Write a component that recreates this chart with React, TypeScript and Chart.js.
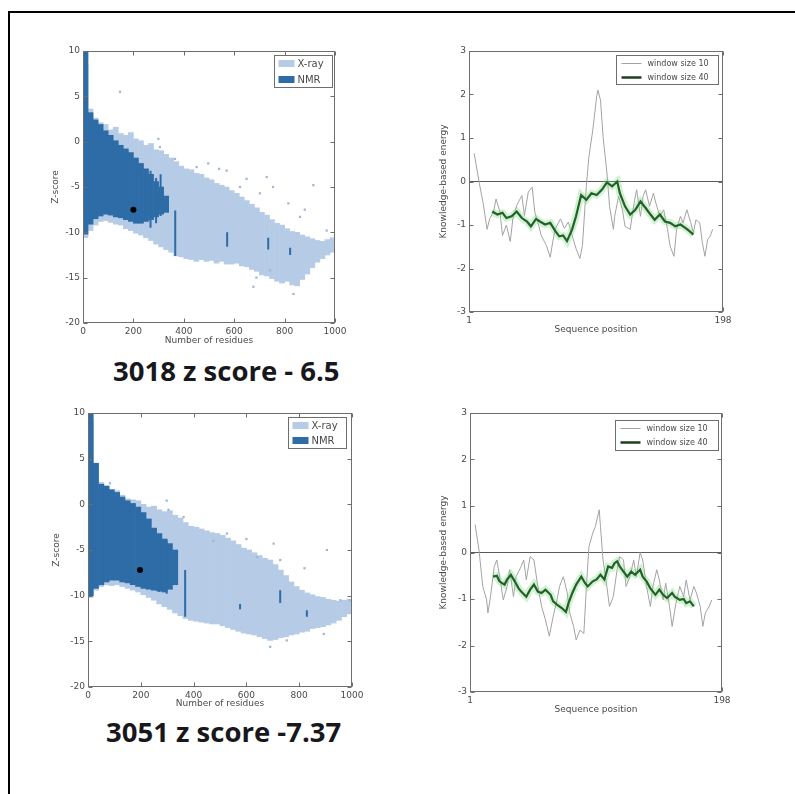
import React, { useEffect, useRef } from "react";
import { Chart, registerables } from "chart.js";

Chart.register(...registerables);
Chart.defaults.font.family = "'DejaVu Sans', sans-serif";

// ---------------- DATA ----------------
const zXTicks = [0, 200, 400, 600, 800, 1000];
const zYTicks = [10, 5, 0, -5, -10, -15, -20];
const eXTicks = [1, 198];
const eYTicks = [3, 2, 1, 0, -1, -2, -3];
const zLegendLabels = ["X-ray", "NMR"];
const eLegendLabels = ["window size 10", "window size 40"];
const captions = ["3018 z score - 6.5", "3051 z score -7.37"];

// bins of 20 residues (centres)
const binX = [10, 30, 50, 70, 90, 110, 130, 150, 170, 190, 210, 230, 250, 270, 290, 310, 330, 350, 370, 390, 410, 430, 450, 470, 490, 510, 530, 550, 570, 590, 610, 630, 650, 670, 690, 710, 730, 750, 770, 790, 810, 830, 850, 870, 890, 910, 930, 950, 970, 990];
const nmrX = [10, 30, 50, 70, 90, 110, 130, 150, 170, 190, 210, 230, 250, 270, 290, 310, 330];

// panel 1 (3018)
const xrayHi1 = [8.5, 3.6, 2.6, 2.1, 1.9, 1.3, 1.6, 0.9, 0.7, 1.0, 0.3, 0.1, -0.4, -0.2, -0.9, -1.0, -1.4, -1.8, -2.2, -2.7, -3.0, -3.1, -3.5, -3.6, -4.0, -4.2, -4.6, -4.8, -5.0, -5.4, -5.7, -6.1, -6.5, -6.9, -7.3, -7.8, -8.1, -8.6, -9.0, -9.2, -9.6, -9.9, -10.0, -10.3, -10.5, -10.7, -10.9, -11.0, -10.8, -10.6];
const xrayLo1 = [-10.6, -9.8, -9.2, -8.8, -8.7, -8.9, -9.1, -9.2, -9.6, -9.8, -10.1, -10.3, -10.6, -10.9, -11.3, -11.6, -11.9, -12.2, -12.6, -12.7, -12.9, -13.0, -13.2, -13.0, -13.2, -13.1, -13.4, -13.2, -13.5, -13.5, -13.4, -13.7, -13.8, -14.1, -14.3, -14.7, -14.8, -15.1, -15.4, -15.6, -15.4, -15.8, -15.9, -15.2, -14.6, -13.9, -13.3, -12.9, -12.5, -12.2];
const nmrHi1 = [10, 3.2, 2.4, 1.9, 1.2, 0.7, 0.1, -0.4, -0.8, -1.2, -1.8, -2.4, -3.0, -3.6, -4.4, -5.0, -6.0];
const nmrLo1 = [-10.2, -9.1, -8.5, -8.2, -8.0, -8.1, -8.3, -8.4, -8.6, -8.8, -9.0, -9.0, -8.8, -8.6, -8.3, -8.0, -7.8];
const streakX1 = [268, 290, 308, 366, 572, 735, 822];
const streakLo1 = [-9.5, -9.0, -8.2, -12.6, -11.6, -11.9, -12.5];
const streakHi1 = [-3.2, -4.0, -3.6, -7.6, -10.0, -10.6, -11.7];
const outX1 = [147, 299, 305, 365, 451, 497, 570, 649, 729, 754, 914, 815, 702, 623, 967, 861, 676, 688, 835, 742, 540, 880];
const outY1 = [5.5, 0.3, -0.6, -1.9, -2.8, -2.4, -3.2, -4.1, -3.9, -5.0, -4.8, -6.8, -5.7, -5.0, -9.8, -8.3, -16, -15, -16.8, -14.2, -3.0, -7.5];
const modelX1 = [200];
const modelY1 = [-7.5];

// panel 2 (3051)
const xrayHi2 = [9.0, 4.5, 2.4, 2.0, 1.6, 1.5, 1.0, 0.6, 0.5, 0.4, 0.0, -0.3, -0.2, -0.6, -0.8, -0.7, -1.2, -1.5, -2.0, -2.4, -2.5, -2.7, -2.9, -3.1, -3.2, -3.4, -3.7, -4.0, -4.4, -4.8, -5.0, -5.3, -5.6, -5.9, -6.1, -6.6, -7.2, -7.8, -8.5, -9.0, -9.4, -9.7, -9.9, -10.1, -10.2, -10.4, -10.5, -10.6, -10.5, -10.4];
const xrayLo2 = [-10.2, -9.4, -9.0, -8.8, -8.9, -8.8, -9.0, -9.2, -9.4, -9.6, -9.9, -10.2, -10.5, -10.9, -11.2, -11.5, -11.9, -12.2, -12.5, -12.7, -12.8, -12.9, -13.0, -13.1, -13.1, -13.3, -13.5, -13.7, -13.9, -14.1, -14.2, -14.3, -14.5, -14.7, -14.9, -14.8, -14.6, -14.5, -14.3, -14.2, -14.0, -13.9, -13.6, -13.5, -13.4, -13.2, -13.0, -12.7, -12.3, -12.0];
const nmrHi2 = [10, 4.5, 2.2, 2.0, 1.6, 1.3, 0.8, 0.4, 0.1, -0.3, -0.9, -1.6, -2.6, -3.2, -3.8, -4.3, -5.0];
const nmrLo2 = [-10.0, -9.2, -8.8, -8.5, -8.3, -8.3, -8.5, -8.6, -8.8, -9.0, -9.2, -9.3, -9.4, -9.5, -9.6, -9.3, -8.8];
const streakX2 = [270, 298, 368, 576, 728, 829];
const streakLo2 = [-9.6, -9.8, -12.3, -11.5, -10.8, -12.3];
const streakHi2 = [-3.5, -4.0, -7.2, -10.9, -9.4, -11.6];
const outX2 = [83, 298, 305, 362, 475, 526, 703, 905, 728, 640, 956, 690, 753, 893, 993, 600, 820];
const outY2 = [2.3, 0.4, -0.6, -1.4, -4.0, -3.2, -4.3, -5.0, -6.1, -5.8, -10.5, -15.6, -14.9, -14.2, -10.5, -3.8, -7.0];
const modelX2 = [197];
const modelY2 = [-7.2];

// energy profiles (panel 1)
const w10Pos1 = [5, 9, 12, 15, 17, 20, 22, 25, 27, 30, 33, 35, 38, 42, 44, 47, 50, 52, 55, 57, 61, 64, 66, 68, 72, 75, 78, 81, 84, 87, 89, 92, 94, 97, 100, 101, 103, 105, 108, 110, 113, 114, 117, 120, 122, 126, 129, 131, 134, 136, 138, 141, 144, 146, 149, 152, 155, 157, 160, 162, 165, 167, 170, 173, 175, 177, 180, 182, 184, 186, 188, 190];
const w10Val1 = [0.65, -0.04, -0.5, -1.1, -0.86, -0.7, -0.4, -0.7, -1.24, -1.0, -1.38, -0.86, -0.55, -0.32, -0.78, -0.24, -0.13, -0.7, -1.0, -1.24, -1.47, -1.74, -1.38, -1.08, -0.86, -1.08, -0.93, -1.24, -1.54, -1.77, -1.47, -0.1, 0.57, 1.18, 1.95, 2.1, 1.87, 1.03, 0.19, -0.57, -1.1, -0.8, -0.34, -0.65, -1.03, -1.1, -0.5, -0.19, -0.8, -0.34, -0.19, -0.57, -0.27, -0.5, -0.8, -0.65, -1.1, -1.49, -1.72, -1.1, -0.8, -0.95, -0.65, -0.95, -1.18, -0.88, -0.95, -1.41, -1.72, -1.34, -1.26, -1.1];
const w40Pos1 = [19, 23, 27, 30, 34, 38, 42, 46, 49, 53, 56, 60, 64, 68, 71, 74, 77, 81, 84, 88, 92, 96, 100, 104, 108, 112, 116, 118, 122, 126, 130, 134, 138, 141, 145, 149, 153, 157, 161, 165, 169, 172, 175];
const w40Val1 = [-0.69, -0.76, -0.72, -0.84, -0.8, -0.69, -0.84, -0.92, -1.03, -0.86, -0.92, -0.99, -0.95, -1.14, -1.26, -1.24, -1.37, -1.1, -0.8, -0.31, -0.42, -0.27, -0.31, -0.19, -0.02, -0.11, 0.0, -0.27, -0.57, -0.76, -0.65, -0.46, -0.61, -0.73, -0.88, -0.76, -0.92, -0.95, -1.03, -0.99, -1.07, -1.14, -1.22];

// energy profiles (panel 2)
const w10Pos2 = [5, 8, 11, 14, 15, 17, 20, 22, 25, 27, 30, 32, 35, 37, 41, 43, 45, 48, 51, 54, 57, 60, 63, 66, 69, 71, 74, 77, 79, 82, 84, 87, 90, 92, 94, 97, 99, 102, 103, 105, 108, 110, 113, 116, 118, 121, 123, 126, 129, 131, 134, 136, 139, 142, 144, 147, 149, 152, 154, 157, 159, 162, 165, 168, 170, 173, 176, 178, 181, 183, 185, 188, 190];
const w10Val2 = [0.6, 0.06, -0.73, -1.02, -1.3, -0.95, -0.3, -0.16, -0.66, -1.02, -0.73, -0.37, -0.95, -0.52, -0.3, -0.16, -0.59, -0.09, -0.16, -0.73, -1.16, -1.45, -1.8, -1.38, -1.02, -0.73, -0.52, -0.87, -1.3, -1.59, -1.88, -1.67, -1.74, -0.73, 0.13, 0.42, 0.56, 0.92, 0.56, -0.16, -0.73, -1.16, -0.95, -0.37, -0.09, -0.16, -0.73, -0.52, -0.16, -0.52, 0.0, -0.16, -0.73, -1.16, -0.73, -0.37, -0.59, -1.02, -0.66, -1.16, -1.59, -1.09, -0.73, -0.95, -0.59, -1.02, -0.73, -0.87, -1.16, -1.59, -1.3, -1.16, -1.02];
const w40Pos2 = [19, 22, 24, 28, 30, 33, 36, 39, 41, 45, 48, 51, 54, 57, 60, 64, 66, 69, 73, 76, 78, 81, 84, 88, 91, 93, 97, 100, 103, 106, 109, 112, 114, 116, 118, 121, 124, 127, 130, 134, 136, 139, 142, 146, 149, 152, 155, 159, 161, 165, 168, 170, 173, 176];
const w40Val2 = [-0.52, -0.5, -0.62, -0.69, -0.58, -0.48, -0.62, -0.77, -0.84, -0.95, -0.8, -0.69, -0.84, -0.87, -0.8, -0.91, -1.05, -1.12, -1.2, -1.28, -1.09, -0.87, -0.69, -0.52, -0.66, -0.73, -0.62, -0.58, -0.48, -0.58, -0.3, -0.33, -0.23, -0.19, -0.3, -0.41, -0.52, -0.41, -0.48, -0.37, -0.52, -0.62, -0.77, -0.91, -0.8, -0.91, -0.98, -0.87, -0.95, -1.02, -1.0, -1.09, -1.05, -1.16];

const zeroX = [1, 198];
const zeroY = [0, 0];

// ---------------- STYLE ----------------
const XRAY_COLOR = "#b6cbe6";
const NMR_COLOR = "#2d6ca6";
const W10_COLOR = "#a3a3a3";
const W40_COLOR = "#245f2c";
const HALO_COLOR = "rgba(110, 215, 110, 0.32)";
const TEXT_COLOR = "#4a4a4a";
const FRAME_COLOR = "#6e6e6e";

type Geo = { left: number; top: number; yw: number; xh: number; pt: number; pr: number; plotW: number; plotH: number };

const geoZ1: Geo = { left: 46, top: 39, yw: 37, xh: 27, pt: 12, pr: 22, plotW: 252, plotH: 272 };
const geoZ2: Geo = { left: 47, top: 401, yw: 41, xh: 26, pt: 12, pr: 22, plotW: 264, plotH: 274 };
const geoE1: Geo = { left: 434, top: 39, yw: 35, xh: 27, pt: 12, pr: 22, plotW: 254, plotH: 261 };
const geoE2: Geo = { left: 434, top: 401, yw: 36, xh: 27, pt: 12, pr: 22, plotW: 252, plotH: 279 };

// ---------------- PLUGINS ----------------
const frameTicks = {
  id: "frameTicks",
  afterDraw(chart: any) {
    const { ctx, chartArea: a, scales } = chart;
    ctx.save();
    ctx.strokeStyle = FRAME_COLOR;
    ctx.lineWidth = 1;
    const l = Math.round(a.left) + 0.5;
    const t = Math.round(a.top) + 0.5;
    const r = Math.round(a.right) - 0.5;
    const b = Math.round(a.bottom) - 0.5;
    ctx.strokeRect(l, t, r - l, b - t);
    const tl = 4;
    ctx.beginPath();
    scales.x.ticks.forEach((tk: any) => {
      const px = Math.round(scales.x.getPixelForValue(tk.value)) + 0.5;
      ctx.moveTo(px, b);
      ctx.lineTo(px, b - tl);
      ctx.moveTo(px, t);
      ctx.lineTo(px, t + tl);
    });
    scales.y.ticks.forEach((tk: any) => {
      const py = Math.round(scales.y.getPixelForValue(tk.value)) + 0.5;
      ctx.moveTo(l, py);
      ctx.lineTo(l + tl, py);
      ctx.moveTo(r, py);
      ctx.lineTo(r - tl, py);
    });
    ctx.stroke();
    ctx.restore();
  },
};

const insetLegend = {
  id: "insetLegend",
  afterDraw(chart: any, _args: any, o: any) {
    if (!o || !o.labels) return;
    const { ctx, chartArea: a } = chart;
    const x = Math.round(a.right - o.right - o.w) + 0.5;
    const y = Math.round(a.top + o.top) + 0.5;
    ctx.save();
    ctx.fillStyle = "#ffffff";
    ctx.fillRect(x, y, o.w, o.h);
    ctx.strokeStyle = FRAME_COLOR;
    ctx.lineWidth = 1;
    ctx.strokeRect(x, y, o.w, o.h);
    ctx.font = `${o.font}px 'DejaVu Sans'`;
    ctx.textBaseline = "middle";
    o.labels.forEach((lab: string, i: number) => {
      const cy = y + o.row0 + i * o.rowGap;
      if (o.kind === "patch") {
        ctx.fillStyle = o.colors[i];
        ctx.fillRect(x + 4, cy - 3.5, 16, 7);
      } else {
        ctx.strokeStyle = o.colors[i];
        ctx.lineWidth = o.widths[i];
        ctx.beginPath();
        ctx.moveTo(x + 5, cy);
        ctx.lineTo(x + 25, cy);
        ctx.stroke();
      }
      ctx.fillStyle = TEXT_COLOR;
      ctx.fillText(lab, x + o.textX, cy + 0.5);
    });
    ctx.restore();
  },
};

// ---------------- CONFIG BUILDERS ----------------
function axisCommon(ticks: number[], title: string, fitKey: "width" | "height", fitVal: number, min: number, max: number) {
  return {
    type: "linear",
    min,
    max,
    offset: false,
    afterBuildTicks: (s: any) => {
      s.ticks = ticks.map((v) => ({ value: v }));
    },
    afterFit: (s: any) => {
      s[fitKey] = fitVal;
    },
    grid: { display: false, drawTicks: false, tickLength: 0 },
    border: { display: false },
    ticks: {
      color: TEXT_COLOR,
      font: { size: 9 },
      padding: 3,
      autoSkip: false,
      maxRotation: 0,
      callback: (v: any) => String(v),
    },
    title: { display: true, text: title, color: TEXT_COLOR, font: { size: 9 } },
  };
}

function zConfig(g: Geo, hi: number[], lo: number[], nHi: number[], nLo: number[], sX: number[], sLo: number[], sHi: number[], oX: number[], oY: number[], mX: number[], mY: number[], legendBox: any): any {
  const streakData: any[] = [];
  sX.forEach((x, i) => {
    streakData.push({ x, y: sLo[i] }, { x, y: sHi[i] }, { x, y: null });
  });
  return {
    type: "bar",
    data: {
      datasets: [
        {
          type: "bar",
          label: zLegendLabels[0],
          data: binX.map((x, i) => ({ x, y: [lo[i], hi[i]] })),
          backgroundColor: XRAY_COLOR,
          borderWidth: 0,
          grouped: false,
          barPercentage: 1,
          categoryPercentage: 1,
          order: 5,
        },
        {
          type: "bar",
          label: zLegendLabels[1],
          data: nmrX.map((x, i) => ({ x, y: [nLo[i], nHi[i]] })),
          backgroundColor: NMR_COLOR,
          borderWidth: 0,
          grouped: false,
          barPercentage: 1,
          categoryPercentage: 1,
          order: 4,
        },
        {
          type: "line",
          label: "streaks",
          data: streakData,
          borderColor: NMR_COLOR,
          borderWidth: 2,
          pointRadius: 0,
          spanGaps: false,
          order: 3,
        },
        {
          type: "scatter",
          label: "sparse",
          data: oX.map((x, i) => ({ x, y: oY[i] })),
          backgroundColor: "#9fb8d8",
          borderWidth: 0,
          pointStyle: "rect",
          pointRadius: 1.6,
          order: 2,
        },
        {
          type: "scatter",
          label: "model",
          data: mX.map((x, i) => ({ x, y: mY[i] })),
          backgroundColor: "#000000",
          borderWidth: 0,
          pointRadius: 3,
          order: 1,
        },
      ],
    },
    options: {
      responsive: true,
      maintainAspectRatio: false,
      animation: false,
      layout: { padding: { left: 0, top: g.pt, right: g.pr, bottom: 0 } },
      scales: {
        x: axisCommon(zXTicks, "Number of residues", "height", g.xh, 0, 1000),
        y: axisCommon(zYTicks, "Z-score", "width", g.yw, -20, 10),
      },
      plugins: {
        legend: { display: false },
        tooltip: { enabled: false },
        insetLegend: {
          labels: zLegendLabels,
          kind: "patch",
          colors: [XRAY_COLOR, NMR_COLOR],
          font: 10,
          textX: 23,
          ...legendBox,
        },
      },
    },
    plugins: [frameTicks, insetLegend],
  };
}

function eConfig(g: Geo, p10: number[], v10: number[], p40: number[], v40: number[], legendBox: any): any {
  return {
    type: "line",
    data: {
      datasets: [
        {
          label: "zero",
          data: zeroX.map((x, i) => ({ x, y: zeroY[i] })),
          borderColor: "#5a5a5a",
          borderWidth: 1,
          pointRadius: 0,
          order: 4,
        },
        {
          label: eLegendLabels[0],
          data: p10.map((x, i) => ({ x, y: v10[i] })),
          borderColor: W10_COLOR,
          borderWidth: 1,
          pointRadius: 0,
          tension: 0,
          order: 3,
        },
        {
          label: "halo",
          data: p40.map((x, i) => ({ x, y: v40[i] })),
          borderColor: HALO_COLOR,
          borderWidth: 7,
          pointRadius: 0,
          order: 2,
        },
        {
          label: eLegendLabels[1],
          data: p40.map((x, i) => ({ x, y: v40[i] })),
          borderColor: W40_COLOR,
          borderWidth: 2.2,
          pointRadius: 0,
          order: 1,
        },
      ],
    },
    options: {
      responsive: true,
      maintainAspectRatio: false,
      animation: false,
      layout: { padding: { left: 0, top: g.pt, right: g.pr, bottom: 0 } },
      scales: {
        x: axisCommon(eXTicks, "Sequence position", "height", g.xh, 1, 198),
        y: axisCommon(eYTicks, "Knowledge-based energy", "width", g.yw, -3, 3),
      },
      plugins: {
        legend: { display: false },
        tooltip: { enabled: false },
        insetLegend: {
          labels: eLegendLabels,
          kind: "line",
          colors: [W10_COLOR, "#1e3f22"],
          widths: [1, 2.5],
          font: 8,
          textX: 31,
          ...legendBox,
        },
      },
    },
    plugins: [frameTicks, insetLegend],
  };
}

// ---------------- COMPONENTS ----------------
function Panel({ g, make }: { g: Geo; make: () => any }) {
  const ref = useRef<HTMLCanvasElement>(null);
  useEffect(() => {
    const chart = new Chart(ref.current as HTMLCanvasElement, make());
    return () => chart.destroy();
  }, []);
  return (
    <div
      style={{
        position: "absolute",
        left: g.left,
        top: g.top,
        width: g.yw + g.plotW + g.pr,
        height: g.pt + g.plotH + g.xh,
      }}
    >
      <canvas ref={ref} />
    </div>
  );
}

const captionStyle: React.CSSProperties = {
  position: "absolute",
  fontFamily: "'Open Sans', sans-serif",
  fontWeight: 700,
  fontSize: 27.5,
  lineHeight: "32px",
  color: "#18181c",
  whiteSpace: "nowrap",
};

export default function App() {
  return (
    <div style={{ position: "absolute", left: 0, top: 0, width: 795, height: 794, background: "#fff", overflow: "hidden" }}>
      <div style={{ position: "absolute", left: 8, top: 11, width: 800, height: 2, background: "#000" }} />
      <div style={{ position: "absolute", left: 8, top: 11, width: 2, height: 800, background: "#000" }} />
      <Panel
        g={geoZ1}
        make={() =>
          zConfig(geoZ1, xrayHi1, xrayLo1, nmrHi1, nmrLo1, streakX1, streakLo1, streakHi1, outX1, outY1, modelX1, modelY1, {
            w: 58, h: 32, right: 3, top: 4, row0: 8, rowGap: 16,
          })
        }
      />
      <Panel
        g={geoE1}
        make={() => eConfig(geoE1, w10Pos1, w10Val1, w40Pos1, w40Val1, { w: 102, h: 29, right: 5, top: 4, row0: 8, rowGap: 14 })}
      />
      <Panel
        g={geoZ2}
        make={() =>
          zConfig(geoZ2, xrayHi2, xrayLo2, nmrHi2, nmrLo2, streakX2, streakLo2, streakHi2, outX2, outY2, modelX2, modelY2, {
            w: 58, h: 31, right: 6, top: 4, row0: 8, rowGap: 15,
          })
        }
      />
      <Panel
        g={geoE2}
        make={() => eConfig(geoE2, w10Pos2, w10Val2, w40Pos2, w40Val2, { w: 103, h: 30, right: 4, top: 7, row0: 8, rowGap: 14 })}
      />
      <div style={{ ...captionStyle, left: 113, top: 355 }}>{captions[0]}</div>
      <div style={{ ...captionStyle, left: 106, top: 716 }}>{captions[1]}</div>
    </div>
  );
}
